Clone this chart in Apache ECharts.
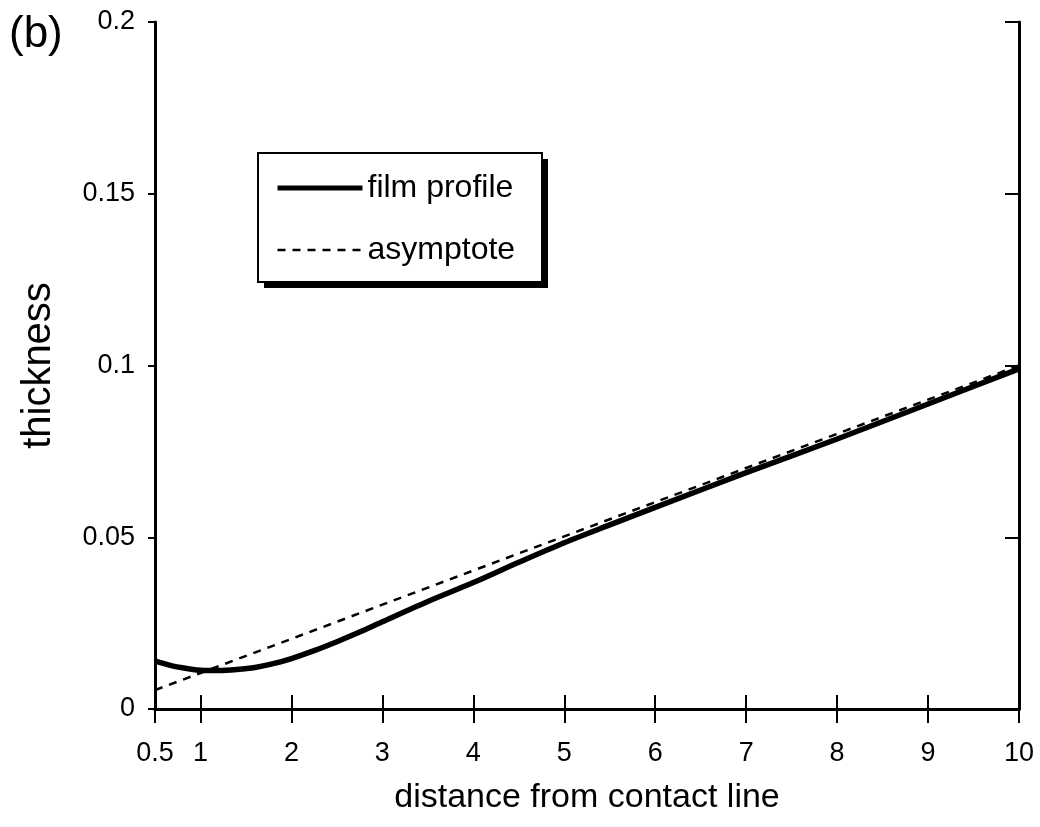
<!DOCTYPE html>
<html>
<head>
<meta charset="utf-8">
<script src="https://cdn.jsdelivr.net/npm/echarts@6/dist/echarts.min.js"></script>
<style>
html,body{margin:0;padding:0;background:#fff;}
#c{width:1040px;height:827px;}
</style>
</head>
<body>
<div id="c"></div>
<script>
// ---- data ----
var xTicks = [0.5, 1, 2, 3, 4, 5, 6, 7, 8, 9, 10];
var yTicks = [0, 0.05, 0.1, 0.15, 0.2];
var filmX = [0.5, 0.6, 0.7, 0.8, 0.9, 1.0, 1.1, 1.2, 1.4, 1.6, 1.8, 2.0, 2.25, 2.5, 2.75, 3.0, 3.5, 4.0, 4.5, 5.0, 5.5, 6.0, 7.0, 8.0, 9.0, 10.0];
var filmY = [0.0140, 0.0132, 0.0125, 0.0120, 0.0116, 0.0113, 0.0112, 0.0112, 0.0115, 0.0121, 0.0132, 0.0147, 0.0170, 0.0196, 0.0224, 0.0254, 0.0313, 0.0368, 0.0427, 0.0484, 0.0536, 0.0587, 0.0688, 0.0786, 0.0888, 0.0990];
var asymX = [0.5, 10];
var asymY = [0.0055, 0.1000];
var seriesNames = ['film profile', 'asymptote'];

var filmData = filmX.map(function (x, i) { return [x, filmY[i]]; });
var asymData = asymX.map(function (x, i) { return [x, asymY[i]]; });

var FONT = 'Liberation Sans, Arial, sans-serif';
var chart = echarts.init(document.getElementById('c'), null, {renderer: 'canvas'});
var axisLine = {show: true, lineStyle: {color: '#000', width: 3}};
var LB = {x: 258, y: 153, w: 284, h: 129};
var option = {
  animation: false,
  backgroundColor: '#fff',
  grid: {left: 155, right: 21, top: 22, bottom: 118, containLabel: false},
  legend: {
    orient: 'vertical',
    left: 275, top: 172,
    z: 20,
    data: [
      {name: seriesNames[0], lineStyle: {color: '#000', width: 5, type: 'solid'}},
      {name: seriesNames[1], lineStyle: {color: '#000', width: 2.5, type: [8, 7]}}
    ],
    itemWidth: 85, itemHeight: 14, itemGap: 30,
    padding: 0,
    itemStyle: {opacity: 0, borderWidth: 0},
    textStyle: {fontFamily: FONT, fontSize: 32, color: '#000', lineHeight: 32}
  },
  xAxis: [{
    type: 'value', min: 0.5, max: 10, position: 'bottom',
    name: 'distance from contact line', nameLocation: 'middle', nameGap: 72,
    nameTextStyle: {fontFamily: FONT, fontSize: 34, color: '#000'},
    axisLine: axisLine,
    axisTick: {show: true, inside: true, length: 14, lineStyle: {color: '#000', width: 2}, customValues: xTicks},
    axisLabel: {fontFamily: FONT, fontSize: 27, color: '#000', margin: 31, customValues: xTicks},
    splitLine: {show: false}
  }, {
    type: 'value', min: 0.5, max: 10, position: 'top',
    axisLine: axisLine,
    axisTick: {show: true, inside: true, length: 14, lineStyle: {color: '#000', width: 2}, customValues: xTicks},
    axisLabel: {show: false},
    splitLine: {show: false}
  }],
  yAxis: [{
    type: 'value', min: 0, max: 0.2, interval: 0.05, position: 'left',
    name: 'thickness', nameLocation: 'middle', nameGap: 96,
    nameTextStyle: {fontFamily: FONT, fontSize: 40, color: '#000'},
    axisLine: axisLine,
    axisTick: {show: true, inside: false, length: 7, lineStyle: {color: '#000', width: 2}},
    axisLabel: {fontFamily: FONT, fontSize: 27, color: '#000', margin: 20},
    splitLine: {show: false}
  }, {
    type: 'value', min: 0, max: 0.2, interval: 0.05, position: 'right',
    axisLine: axisLine,
    axisTick: {show: true, inside: true, length: 14, lineStyle: {color: '#000', width: 2}},
    axisLabel: {show: false},
    splitLine: {show: false}
  }],
  graphic: [{
    type: 'text', left: 9, top: 13, z: 10,
    style: {text: '(b)', fontFamily: FONT, fontSize: 44, fill: '#000'}
  }, {
    type: 'rect', z: 10, silent: true,
    shape: {x: LB.x + 6, y: LB.y + 6, width: LB.w, height: LB.h},
    style: {fill: '#000'}
  }, {
    type: 'rect', z: 11, silent: true,
    shape: {x: LB.x, y: LB.y, width: LB.w, height: LB.h},
    style: {fill: '#fff', stroke: '#000', lineWidth: 2}
  }],
  series: [{
    name: seriesNames[0], type: 'line', data: filmData,
    xAxisIndex: 0, yAxisIndex: 0,
    smooth: 0.3,
    symbol: 'none', showSymbol: false,
    lineStyle: {color: '#000', width: 5.5, type: 'solid'},
    itemStyle: {color: '#000'},
    z: 3
  }, {
    name: seriesNames[1], type: 'line', data: asymData,
    xAxisIndex: 0, yAxisIndex: 0,
    symbol: 'none', showSymbol: false,
    lineStyle: {color: '#000', width: 2.5, type: [8, 7]},
    itemStyle: {color: '#000'},
    z: 4
  }]
};
chart.setOption(option);
</script>
</body>
</html>
